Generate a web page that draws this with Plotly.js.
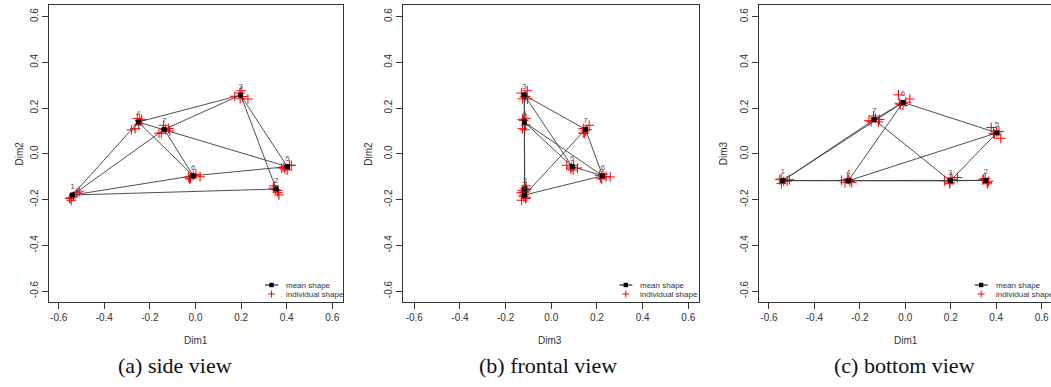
<!DOCTYPE html>
<html>
<head>
<meta charset="utf-8">
<script src="https://cdn.plot.ly/plotly-3.0.1.min.js"></script>
<style>
html,body{margin:0;padding:0;background:#fff;}
#chart{width:1051px;height:387px;}
</style>
</head>
<body>
<div id="chart"></div>
<script>
// ---------- data ----------
const landmarkLabels = ['1', '2', '3', '4', '5', '6', '7'];
const meanDim1 = [-0.539, 0.354, 0.198, -0.251, 0.403, -0.010, -0.137];
const meanDim2 = [-0.180, -0.154, 0.257, 0.139, -0.056, -0.096, 0.107];
const meanDim3 = [-0.117, -0.116, -0.118, -0.118, 0.092, 0.225, 0.150];

// links between landmarks (1-based)
const edgeFrom = [1, 1, 1, 1, 4, 4, 4, 7, 7, 3, 3, 6];
const edgeTo   = [4, 7, 6, 2, 3, 6, 5, 3, 6, 2, 5, 5];

// individual shapes (6 individuals per landmark)
const indivDim1 = [
  [-0.552, -0.545, -0.535, -0.520, -0.510, -0.546],
  [0.345, 0.352, 0.360, 0.362, 0.366, 0.341],
  [0.200, 0.195, 0.172, 0.230, 0.196, 0.206],
  [-0.255, -0.236, -0.281, -0.265, -0.249, -0.244],
  [0.378, 0.412, 0.420, 0.392, 0.402, 0.388],
  [-0.030, -0.022, 0.020, -0.010, -0.026, 0.002],
  [-0.160, -0.150, -0.140, -0.118, -0.113, -0.132]
];
const indivDim2 = [
  [-0.195, -0.203, -0.186, -0.170, -0.163, -0.192],
  [-0.140, -0.156, -0.161, -0.170, -0.180, -0.150],
  [0.276, 0.266, 0.252, 0.240, 0.241, 0.251],
  [0.155, 0.151, 0.105, 0.110, 0.126, 0.146],
  [-0.062, -0.050, -0.050, -0.066, -0.071, -0.058],
  [-0.101, -0.106, -0.100, -0.094, -0.110, -0.089],
  [0.090, 0.091, 0.125, 0.111, 0.100, 0.106]
];
const indivDim3 = [
  [-0.113, -0.130, -0.121, -0.119, -0.113, -0.110],
  [-0.110, -0.108, -0.126, -0.131, -0.120, -0.114],
  [-0.105, -0.131, -0.118, -0.104, -0.126, -0.112],
  [-0.111, -0.126, -0.116, -0.126, -0.112, -0.121],
  [0.115, 0.098, 0.068, 0.085, 0.096, 0.090],
  [0.258, 0.216, 0.240, 0.212, 0.221, 0.226],
  [0.145, 0.140, 0.166, 0.140, 0.150, 0.156]
];

const tickVals = [-0.6, -0.4, -0.2, 0.0, 0.2, 0.4, 0.6];
const tickText = ['-0.6', '-0.4', '-0.2', '0.0', '0.2', '0.4', '0.6'];

const legendLabels = ['mean shape', 'individual shape'];
const captions = ['(a) side view', '(b) frontal view', '(c) bottom view'];

// ---------- layout geometry (pixels) ----------
const W = 1051, H = 387;
const yTop = 5, yBot = 302;
const panels = [
  {x0: 49,    x1: 343,  xr: [-0.6425, 0.647], xd: meanDim1, yd: meanDim2, xi: indivDim1, yi: indivDim2,
   xt: 'Dim1', yt: 'Dim2', ytOff: 30, cap: 175, mirrorX: true, mirrorY: true},
  {x0: 403.3, x1: 699,  xr: [-0.648, 0.647],  xd: meanDim3, yd: meanDim2, xi: indivDim3, yi: indivDim2,
   xt: 'Dim3', yt: 'Dim2', ytOff: 35, cap: 548, mirrorX: true, mirrorY: true},
  {x0: 758.7, x1: 1051, xr: [-0.645, 0.641],  xd: meanDim1, yd: meanDim3, xi: indivDim1, yi: indivDim3,
   xt: 'Dim1', yt: 'Dim3', ytOff: 35, cap: 904, mirrorX: true, mirrorY: false}
];

const FONT = 'Liberation Sans, Arial, sans-serif';
const AX = '#333333';
const px = v => v / W;
const py = v => 1 - v / H;

const traces = [];
const layout = {
  width: W, height: H,
  margin: {l: 0, r: 0, t: 0, b: 0},
  paper_bgcolor: '#ffffff', plot_bgcolor: '#ffffff',
  showlegend: false,
  font: {family: FONT, size: 10, color: AX},
  shapes: [], annotations: []
};

panels.forEach((p, i) => {
  const n = i === 0 ? '' : String(i + 1);
  const xa = 'x' + n, ya = 'y' + n;

  // individual shapes
  const ix = [], iy = [];
  p.xi.forEach((row, k) => row.forEach((v, j) => { ix.push(v); iy.push(p.yi[k][j]); }));
  traces.push({
    type: 'scatter', mode: 'markers', x: ix, y: iy, xaxis: xa, yaxis: ya,
    marker: {symbol: 'cross-thin', size: 7, line: {color: '#ff0000', width: 1}},
    hoverinfo: 'skip', cliponaxis: false
  });

  // links
  const ex = [], ey = [];
  edgeFrom.forEach((a, k) => {
    const b = edgeTo[k];
    ex.push(p.xd[a - 1], p.xd[b - 1], null);
    ey.push(p.yd[a - 1], p.yd[b - 1], null);
  });
  traces.push({
    type: 'scatter', mode: 'lines', x: ex, y: ey, xaxis: xa, yaxis: ya,
    line: {color: '#3c3c3c', width: 0.9}, hoverinfo: 'skip'
  });

  // mean shape
  traces.push({
    type: 'scatter', mode: 'markers+text', x: p.xd, y: p.yd, xaxis: xa, yaxis: ya,
    text: landmarkLabels, textposition: 'top center',
    textfont: {family: FONT, size: 8, color: '#555555'},
    marker: {symbol: 'square', size: 5, color: '#000000'},
    hoverinfo: 'skip', cliponaxis: false
  });

  const dom = [px(p.x0), Math.min(1, px(p.x1))];
  layout['xaxis' + n] = {
    domain: dom, range: p.xr, anchor: ya,
    showgrid: false, zeroline: false,
    showline: true, mirror: p.mirrorX, linecolor: AX, linewidth: 1,
    ticks: 'outside', ticklen: 6, tickcolor: AX, tickwidth: 1,
    tickvals: tickVals, ticktext: tickText,
    tickfont: {family: FONT, size: 10, color: AX}, fixedrange: true
  };
  layout['yaxis' + n] = {
    domain: [py(yBot), py(yTop)], range: [-0.648, 0.651], anchor: xa,
    showgrid: false, zeroline: false,
    showline: true, mirror: p.mirrorY, linecolor: AX, linewidth: 1,
    ticks: 'outside', ticklen: 6, tickcolor: AX, tickwidth: 1,
    tickvals: tickVals, ticktext: tickText, tickangle: -90,
    tickfont: {family: FONT, size: 10, color: AX}, fixedrange: true
  };

  // axis titles
  layout.annotations.push({
    xref: 'paper', yref: 'paper', x: px((p.x0 + p.x0 + 294) / 2), y: py(340),
    text: p.xt, showarrow: false, xanchor: 'center', yanchor: 'middle',
    font: {family: FONT, size: 10, color: AX}
  });
  layout.annotations.push({
    xref: 'paper', yref: 'paper', x: px(p.x0 - p.ytOff), y: py((yTop + yBot) / 2),
    text: p.yt, showarrow: false, xanchor: 'center', yanchor: 'middle', textangle: -90,
    font: {family: FONT, size: 10, color: AX}
  });
  // caption
  layout.annotations.push({
    xref: 'paper', yref: 'paper', x: px(p.cap), y: py(365),
    text: captions[i], showarrow: false, xanchor: 'center', yanchor: 'middle',
    font: {family: 'Liberation Serif, DejaVu Serif, serif', size: 22, color: '#111111'}
  });

  // legend (drawn manually, R style)
  const r1 = yBot - 17, r2 = yBot - 8;
  const lx0 = p.x0 + 216, lx1 = p.x0 + 229, lc = p.x0 + 222.5, tx = p.x0 + 235;
  layout.shapes.push({type: 'line', xref: 'paper', yref: 'paper',
    x0: px(lx0), x1: px(lx1), y0: py(r1), y1: py(r1), line: {color: '#000', width: 1}});
  layout.shapes.push({type: 'rect', xref: 'paper', yref: 'paper',
    x0: px(lc - 2.2), x1: px(lc + 2.2), y0: py(r1 - 2.2), y1: py(r1 + 2.2),
    fillcolor: '#000', line: {width: 0}});
  layout.shapes.push({type: 'line', xref: 'paper', yref: 'paper',
    x0: px(lc - 3.5), x1: px(lc + 3.5), y0: py(r2), y1: py(r2), line: {color: '#ff0000', width: 1}});
  layout.shapes.push({type: 'line', xref: 'paper', yref: 'paper',
    x0: px(lc), x1: px(lc), y0: py(r2 - 3.5), y1: py(r2 + 3.5), line: {color: '#ff0000', width: 1}});
  [r1, r2].forEach((r, k) => layout.annotations.push({
    xref: 'paper', yref: 'paper', x: px(tx), y: py(r),
    text: legendLabels[k], showarrow: false, xanchor: 'left', yanchor: 'middle',
    font: {family: FONT, size: 8, color: '#333333'}
  }));
});

Plotly.newPlot('chart', traces, layout, {staticPlot: true, displayModeBar: false});
</script>
</body>
</html>
